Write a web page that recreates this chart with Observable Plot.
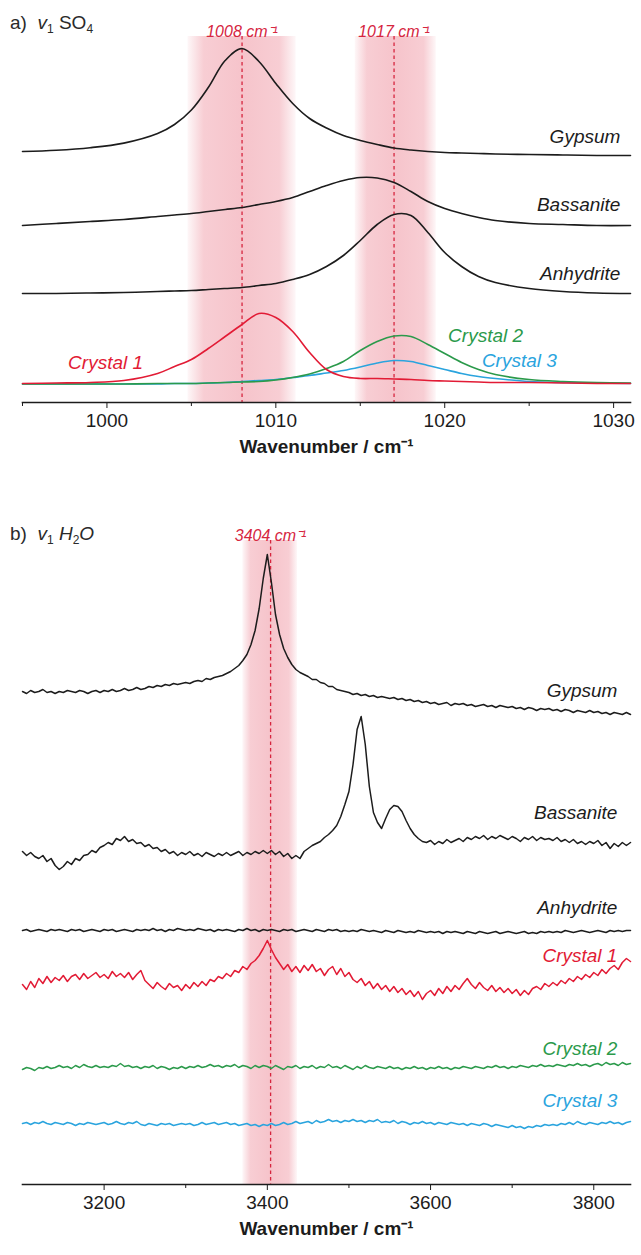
<!DOCTYPE html>
<html>
<head>
<meta charset="utf-8">
<script src="https://cdn.jsdelivr.net/npm/d3@7"></script>
<script src="https://cdn.jsdelivr.net/npm/@observablehq/plot@0.6"></script>
<style>
  body { margin: 0; background: #fff; }
  #chart { width: 641px; }
  #chart svg { display: block; }
</style>
</head>
<body>
<div id="chart"></div>
<script>
// ---------------- DATA ----------------
// Panel a) v1 SO4 region (wavenumber, cm-1) and offset intensities (a.u.)
const waveSO4 = [995, 997, 999, 1001, 1003, 1004, 1005, 1006, 1007, 1008, 1009, 1010, 1011, 1012, 1013, 1014, 1015, 1016, 1017, 1018, 1019, 1020, 1021, 1022, 1023, 1025, 1027, 1029, 1031];
const gypsumSO4 = [25.1, 25.23, 25.48, 25.94, 26.9, 27.8, 29.25, 31.5, 34.2, 35.4, 34.1, 31.9, 29.9, 28.4, 27.45, 26.7, 26.2, 25.8, 25.45, 25.25, 25.1, 25.0, 24.95, 24.9, 24.85, 24.8, 24.75, 24.7, 24.7];
const bassaniteSO4 = [17.7, 17.9, 18.1, 18.3, 18.6, 18.75, 18.9, 19.1, 19.3, 19.5, 19.8, 20.1, 20.5, 21.1, 21.7, 22.2, 22.5, 22.45, 22.0, 21.1, 20.1, 19.4, 18.9, 18.5, 18.2, 17.9, 17.8, 17.7, 17.7];
const anhydriteSO4 = [10.9, 10.9, 10.95, 11.0, 11.1, 11.15, 11.2, 11.3, 11.4, 11.5, 11.7, 11.9, 12.3, 12.8, 13.6, 14.7, 16.2, 17.8, 18.8, 18.7, 17.0, 15.0, 13.6, 12.6, 12.0, 11.4, 11.1, 10.95, 10.9];
const crystal1SO4 = [1.9, 1.95, 2.0, 2.2, 2.9, 3.6, 4.3, 5.4, 6.6, 7.8, 8.9, 8.5, 7.1, 5.0, 3.3, 2.6, 2.4, 2.4, 2.35, 2.3, 2.2, 2.15, 2.1, 2.05, 2.0, 2.0, 1.95, 1.9, 1.9];
const crystal2SO4 = [1.85, 1.85, 1.85, 1.85, 1.9, 1.9, 1.9, 1.95, 2.0, 2.05, 2.1, 2.25, 2.5, 2.85, 3.4, 4.1, 5.2, 6.1, 6.65, 6.6, 5.8, 4.9, 4.0, 3.3, 2.8, 2.3, 2.1, 2.0, 1.95];
const crystal3SO4 = [1.85, 1.85, 1.85, 1.85, 1.85, 1.9, 1.9, 1.95, 2.0, 2.1, 2.2, 2.3, 2.5, 2.7, 2.95, 3.2, 3.55, 3.95, 4.2, 4.1, 3.7, 3.3, 2.9, 2.6, 2.4, 2.1, 2.0, 1.95, 1.9];
const peaksSO4 = [1008, 1017];
const bandsSO4 = [{x1: 1004.8, x2: 1011.2}, {x1: 1014.7, x2: 1019.5}];
const ticksSO4 = [1000, 1010, 1020, 1030];
const minorTicksSO4 = [995, 1005, 1015, 1025];

// Panel b) v1 H2O region, sampled every 5 cm-1 from 3100 to 3845
const waveH2O = d3.range(3100, 3850, 5);
const gypsumH2O = [
  49.3, 49.1, 49.4, 49.2, 49.3, 49.5, 49.2, 49.3, 49.1, 49.3,
  49.2, 49.4, 49.3, 49.2, 49.4, 49.3, 49.1, 49.3, 49.4, 49.2,
  49.4, 49.3, 49.5, 49.3, 49.4, 49.6, 49.4, 49.5, 49.7, 49.5,
  49.6, 49.8, 49.7, 49.9, 49.8, 50.0, 49.9, 50.1, 50.0, 50.1,
  50.2, 50.1, 50.3, 50.4, 50.3, 50.6, 50.5, 50.7, 50.8, 50.9,
  51.1, 51.3, 51.6, 51.9, 52.4, 53.0, 54.0, 55.4, 57.6, 60.6,
  63.0, 60.2, 57.0, 55.0, 53.6, 52.7, 52.0, 51.5, 51.2, 51.0,
  50.8, 50.5, 50.5, 50.2, 50.1, 49.8, 49.8, 49.5, 49.4, 49.3,
  49.2, 49.0, 49.1, 48.9, 49.0, 48.8, 48.9, 48.7, 48.8, 48.7,
  48.6, 48.7, 48.5, 48.6, 48.4, 48.5, 48.3, 48.4, 48.2, 48.3,
  48.1, 48.2, 48.0, 48.1, 48.2, 47.9, 48.1, 48.0, 48.1, 47.9,
  48.0, 47.8, 47.9, 48.0, 47.8, 47.9, 47.7, 47.9, 47.8, 47.7,
  47.8, 47.6, 47.7, 47.5, 47.7, 47.6, 47.4, 47.6, 47.5, 47.6,
  47.4, 47.5, 47.3, 47.5, 47.4, 47.2, 47.4, 47.3, 47.2, 47.4,
  47.2, 47.3, 47.1, 47.2, 47.0, 47.2, 47.1, 47.0, 47.2, 47.0
];
const bassaniteH2O = [
  33.3, 32.9, 33.2, 32.8, 32.6, 32.9, 32.3, 32.6, 31.9, 31.5,
  31.8, 32.3, 32.0, 32.6, 32.4, 32.9, 33.0, 33.4, 33.2, 33.7,
  33.9, 34.2, 34.0, 34.6, 34.4, 34.8, 34.3, 34.5, 34.1, 34.2,
  33.8, 34.0, 33.6, 33.7, 33.3, 33.5, 33.1, 33.3, 32.9, 33.2,
  33.0, 33.3, 32.9, 33.1, 32.8, 33.2, 33.0, 32.8, 33.1, 32.9,
  33.2, 32.9, 33.1, 33.3, 32.9, 33.2, 33.0, 33.3, 33.1, 33.4,
  33.1, 33.4, 33.0, 33.3, 32.8, 33.1, 32.6, 32.9, 32.6, 33.3,
  33.6, 33.9, 34.1, 34.3, 34.7, 35.0, 35.4, 35.9, 36.8, 38.0,
  39.3, 42.0, 45.5, 46.8, 44.0, 39.8, 37.2, 36.2, 35.6, 36.6,
  37.5, 37.9, 37.8, 37.3, 36.4, 35.6, 35.0, 34.6, 34.3, 34.2,
  34.4, 34.0, 34.3, 34.1, 34.5, 34.2, 34.4, 34.6, 34.3, 34.7,
  34.5, 34.8, 34.6, 34.9, 34.5, 34.8, 34.6, 34.9, 34.7, 34.5,
  34.8, 34.6, 34.3, 34.7, 34.5, 34.8, 34.4, 34.7, 34.5, 34.6,
  34.4, 34.7, 34.3, 34.5, 34.2, 34.5, 34.1, 34.3, 34.0, 34.3,
  34.1, 34.4, 33.9, 34.2, 33.6, 34.1, 33.8, 34.2, 33.9, 34.2
];
const anhydriteH2O = [
  25.4, 25.5, 25.3, 25.4, 25.5, 25.4, 25.3, 25.5, 25.4, 25.5,
  25.4, 25.3, 25.5, 25.4, 25.5, 25.3, 25.4, 25.5, 25.4, 25.3,
  25.5, 25.4, 25.5, 25.3, 25.4, 25.5, 25.4, 25.3, 25.5, 25.4,
  25.5, 25.4, 25.6, 25.4, 25.5, 25.3, 25.5, 25.4, 25.6, 25.5,
  25.4, 25.5, 25.4, 25.6, 25.5, 25.4, 25.5, 25.3, 25.5, 25.4,
  25.5, 25.4, 25.3, 25.5, 25.4, 25.6, 25.4, 25.5, 25.3, 25.5,
  25.4, 25.5, 25.4, 25.3, 25.5, 25.4, 25.5, 25.3, 25.4, 25.5,
  25.4, 25.3, 25.5, 25.4, 25.3, 25.5, 25.4, 25.5, 25.3, 25.4,
  25.3, 25.4, 25.3, 25.5, 25.4, 25.3, 25.4, 25.3, 25.2, 25.4,
  25.3, 25.2, 25.4, 25.3, 25.2, 25.3, 25.2, 25.4, 25.3, 25.2,
  25.3, 25.2, 25.3, 25.1, 25.3, 25.2, 25.3, 25.2, 25.1, 25.3,
  25.2, 25.1, 25.3, 25.2, 25.1, 25.2, 25.3, 25.1, 25.2, 25.3,
  25.2, 25.1, 25.2, 25.3, 25.1, 25.2, 25.1, 25.3, 25.2, 25.3,
  25.2, 25.3, 25.2, 25.4, 25.3, 25.2, 25.3, 25.4, 25.3, 25.2,
  25.3, 25.4, 25.3, 25.2, 25.4, 25.3, 25.4, 25.3, 25.4, 25.4
];
const crystal1H2O = [
  20.0, 19.5, 20.3, 19.7, 20.6, 20.1, 20.8, 20.2, 20.7, 20.4,
  20.9, 20.3, 20.8, 21.0, 20.5, 21.1, 20.6, 20.9, 21.2, 20.7,
  21.0, 20.6, 21.3, 20.8, 21.1, 20.7, 21.2, 20.5, 21.0, 21.4,
  20.4, 20.0, 19.6, 20.2, 19.8, 19.5, 20.1, 19.7, 19.9, 19.4,
  20.0, 19.6, 20.2, 19.8, 20.3, 19.9, 20.5, 20.3, 20.8, 20.6,
  21.1, 20.8, 21.4, 21.2, 21.8, 21.5, 22.1, 22.4, 22.9, 23.6,
  24.4, 23.5, 22.7, 22.1, 21.5, 22.0, 21.3, 21.8, 21.2, 21.9,
  21.4, 22.0, 21.3, 21.6, 20.9, 21.5, 21.8, 21.0, 21.6, 20.8,
  21.2, 20.5, 20.2, 20.6, 19.9, 20.3, 19.6, 20.1, 19.5, 19.9,
  19.3, 19.8, 19.2, 19.6, 19.0, 19.4, 18.8, 19.3, 18.5, 19.1,
  19.4, 18.9, 19.6, 19.1, 19.8, 19.3, 19.9, 19.5, 20.1, 20.6,
  20.0, 19.6, 20.2, 19.7, 19.4, 19.9, 19.3, 19.7, 19.2, 19.6,
  19.1, 19.5, 18.9, 19.4, 19.0, 19.6, 19.8, 19.5, 20.1, 19.8,
  20.2, 19.9, 20.4, 20.1, 20.6, 20.3, 20.8, 20.5, 21.0, 20.7,
  21.2, 20.9, 21.5, 21.1, 21.6, 21.9, 21.5, 22.2, 22.6, 22.3
];
const crystal2H2O = [
  11.5, 11.7, 11.6, 11.4, 11.7, 11.6, 11.8, 11.6, 11.7, 11.9,
  11.7, 11.8, 11.6, 11.9, 11.7, 12.0, 11.8, 11.7, 11.9, 11.7,
  11.8, 11.7, 11.9, 11.8, 12.1, 11.8, 11.9, 11.7, 11.8, 11.6,
  11.8, 11.7, 11.9, 11.6, 11.8, 11.7, 11.5, 11.7, 11.6, 11.8,
  11.6, 11.8, 11.7, 11.9, 11.7, 11.8, 12.0, 11.8, 11.9, 11.7,
  11.9, 11.8, 12.0, 11.7, 11.9, 11.8, 11.6, 11.9, 11.7, 11.9,
  11.8, 11.6, 11.9, 11.7, 11.5, 11.8, 11.7, 11.9, 11.6, 11.8,
  11.7, 11.9, 11.6, 11.8, 11.7, 12.0, 11.7, 11.8, 11.6, 11.9,
  11.7, 11.5, 11.8, 11.6, 11.9, 11.7, 11.6, 11.8, 11.7, 11.6,
  11.8, 11.6, 11.7, 11.5, 11.7, 11.6, 11.8, 11.6, 11.7, 11.5,
  11.7, 11.6, 11.8, 11.6, 11.7, 11.5, 11.7, 11.6, 11.8, 11.7,
  11.6, 11.8, 11.7, 11.6, 11.8, 11.7, 11.9, 11.7, 11.8, 11.6,
  11.8, 11.7, 11.9, 11.8, 11.7, 11.9, 11.8, 12.0, 11.8, 11.9,
  11.8, 12.0, 11.9, 11.8, 12.0, 11.9, 12.1, 11.9, 12.0, 11.8,
  12.0, 12.1, 11.9, 12.2, 12.0, 12.1, 11.9, 12.2, 12.0, 12.1
];
const crystal3H2O = [
  6.1, 6.2, 6.0, 6.2, 6.1, 6.3, 6.1, 6.0, 6.2, 6.1,
  6.0, 6.2, 6.1, 5.9, 6.1, 6.0, 6.2, 6.1, 6.0, 6.1,
  6.2, 6.0, 6.1, 6.3, 6.1, 6.0, 6.2, 6.1, 6.3, 6.0,
  5.9, 6.1, 6.0, 5.9, 6.1, 6.0, 6.1, 5.9, 6.0, 6.1,
  6.0, 6.1, 5.9, 6.0, 6.2, 6.0, 6.1, 6.2, 6.0, 6.1,
  6.2, 6.0, 6.1, 5.9, 6.0, 6.1, 5.9, 6.0, 5.8, 6.0,
  5.9, 6.1, 5.9, 6.0, 6.2, 6.0, 6.1, 6.3, 6.1, 6.2,
  6.3, 6.1, 6.4, 6.2, 6.3, 6.5, 6.3, 6.4, 6.2, 6.4,
  6.3, 6.5, 6.3, 6.4, 6.2, 6.4, 6.3, 6.5, 6.2, 6.3,
  6.2, 6.4, 6.1, 6.3, 6.2, 6.0, 6.2, 6.1, 6.3, 6.1,
  6.2, 6.0, 6.2, 6.1, 6.0, 6.2, 6.1, 6.0, 6.1, 5.9,
  6.1, 6.0, 5.9, 6.1, 6.0, 5.8, 6.0, 5.9, 5.8, 5.7,
  5.9, 5.7, 5.8, 5.6, 5.8, 5.7, 5.9, 5.8, 6.0, 5.9,
  6.0, 5.9, 6.1, 6.0, 6.2, 6.0, 6.3, 6.1, 6.0, 6.2,
  6.1, 6.0, 6.2, 6.1, 6.3, 6.1, 6.2, 6.0, 6.2, 6.3
];
const peaksH2O = [3404];
const bandsH2O = [{x1: 3370, x2: 3437}];
const ticksH2O = [3200, 3400, 3600, 3800];
const minorTicksH2O = [3300, 3500, 3700];

const sampleNames = ["Gypsum", "Bassanite", "Anhydrite", "Crystal 1", "Crystal 2", "Crystal 3"];

// ---------------- STYLE ----------------
const FONT = "'Liberation Sans', Arial, Helvetica, sans-serif";
const INK = "#1c1c1c";
const COLORS = {"Gypsum": INK, "Bassanite": INK, "Anhydrite": INK, "Crystal 1": "#e21b35", "Crystal 2": "#2b9a4b", "Crystal 3": "#2aa4de"};
const MARKER = "#d6263f";

const series = (xs, ys) => xs.map((x, i) => ({x, y: ys[i]}));

function addGradient(svg, id) {
  const defs = d3.select(svg).insert("defs", ":first-child");
  const g = defs.append("linearGradient").attr("id", id).attr("x1", 0).attr("x2", 1).attr("y1", 0).attr("y2", 0);
  [[0, 0.12], [0.15, 0.75], [0.5, 0.9], [0.85, 0.75], [1, 0.12]].forEach(([o, a]) =>
    g.append("stop").attr("offset", o).attr("stop-color", "#f5bdc5").attr("stop-opacity", a));
}

function addTitle(svg, y, parts) {
  const t = d3.select(svg).append("text").attr("x", 10).attr("y", y).attr("text-anchor", "start")
    .attr("font-family", FONT).attr("font-size", 19).attr("fill", "#2a2a2a");
  for (const [txt, opt] of parts) {
    const s = t.append("tspan").text(txt);
    if (opt.italic) s.attr("font-style", "italic");
    if (opt.sub) s.attr("font-size", 12).attr("baseline-shift", "-30%");
  }
}

function panel({waves, curves, xDomain, yDomain, height, marginTop, marginBottom, bands, peaks, ticks, minor, labelPos, gradId, curve, lineWidth}) {
  const lines = curves.map(([name, ys]) =>
    Plot.line(series(waves, ys), {x: "x", y: "y", stroke: COLORS[name], strokeWidth: lineWidth, curve}));
  const order = [5, 4, 0, 1, 2, 3];
  const labels = sampleNames.map((name) => {
    const [x, y, anchor] = labelPos[name];
    return Plot.text([name], {x: () => x, y: () => y, text: d => d, textAnchor: anchor,
      fill: COLORS[name], fontStyle: "italic", fontSize: 19});
  });
  const svg = Plot.plot({
    width: 641, height, marginTop, marginBottom, marginLeft: 22, marginRight: 11,
    x: {domain: xDomain},
    y: {domain: yDomain, axis: null},
    style: {fontFamily: FONT, fontSize: "19px", color: INK, background: "transparent", overflow: "visible"},
    marks: [
      Plot.rect(bands, {x1: "x1", x2: "x2", fill: `url(#${gradId})`}),
      Plot.ruleX(peaks, {x: d => d, stroke: MARKER, strokeWidth: 1.3, strokeDasharray: "3.5,3"}),
      Plot.text(peaks, {x: d => d, text: d => `${d} cm⁻¹`, frameAnchor: "top", dy: -11,
        fill: MARKER, fontStyle: "italic", fontSize: 16}),
      ...order.map(i => lines[i]),
      ...labels,
      Plot.frame({anchor: "bottom", stroke: INK, strokeWidth: 1.6}),
      Plot.axisX({ticks, tickSize: 6, tickPadding: 5, tickFormat: d => String(d), label: null, stroke: INK, fontSize: 19}),
      Plot.axisX({ticks: minor, tickSize: 4, tickFormat: () => "", label: null, stroke: INK}),
      Plot.text(["Wavenumber / cm⁻¹"], {frameAnchor: "bottom", dy: 50, fontWeight: "bold", fontSize: 19, fill: INK})
    ]
  });
  addGradient(svg, gradId);
  return svg;
}

const topSvg = panel({
  waves: waveSO4,
  curves: [["Gypsum", gypsumSO4], ["Bassanite", bassaniteSO4], ["Anhydrite", anhydriteSO4],
           ["Crystal 1", crystal1SO4], ["Crystal 2", crystal2SO4], ["Crystal 3", crystal3SO4]],
  xDomain: [995, 1031], yDomain: [0, 36.6], height: 470, marginTop: 36, marginBottom: 68,
  bands: bandsSO4, peaks: peaksSO4, ticks: ticksSO4, minor: minorTicksSO4,
  labelPos: {"Gypsum": [1030.4, 26.6, "end"], "Bassanite": [1030.4, 19.8, "end"], "Anhydrite": [1030.4, 12.9, "end"],
             "Crystal 1": [997.7, 4.0, "start"], "Crystal 2": [1020.2, 6.7, "start"], "Crystal 3": [1022.2, 4.2, "start"]},
  gradId: "bandA", curve: "catmull-rom", lineWidth: 1.6
});
addTitle(topSvg, 29, [["a)  ", {}], ["v", {italic: true}], ["1", {sub: true}], [" SO", {}], ["4", {sub: true}]]);

const bottomSvg = panel({
  waves: waveH2O,
  curves: [["Gypsum", gypsumH2O], ["Bassanite", bassaniteH2O], ["Anhydrite", anhydriteH2O],
           ["Crystal 1", crystal1H2O], ["Crystal 2", crystal2H2O], ["Crystal 3", crystal3H2O]],
  xDomain: [3100, 3845], yDomain: [0, 64.4], height: 785, marginTop: 70, marginBottom: 71,
  bands: bandsH2O, peaks: peaksH2O, ticks: ticksH2O, minor: minorTicksH2O,
  labelPos: {"Gypsum": [3829, 49.4, "end"], "Bassanite": [3829, 37.2, "end"], "Anhydrite": [3829, 27.7, "end"],
             "Crystal 1": [3829, 22.9, "end"], "Crystal 2": [3829, 13.6, "end"], "Crystal 3": [3829, 8.4, "end"]},
  gradId: "bandB", curve: "linear", lineWidth: 1.5
});
addTitle(bottomSvg, 70, [["b)  ", {}], ["v", {italic: true}], ["1", {sub: true}], [" ", {}], ["H", {italic: true}], ["2", {sub: true}], ["O", {italic: true}]]);

document.getElementById("chart").append(topSvg, bottomSvg);
</script>
</body>
</html>
